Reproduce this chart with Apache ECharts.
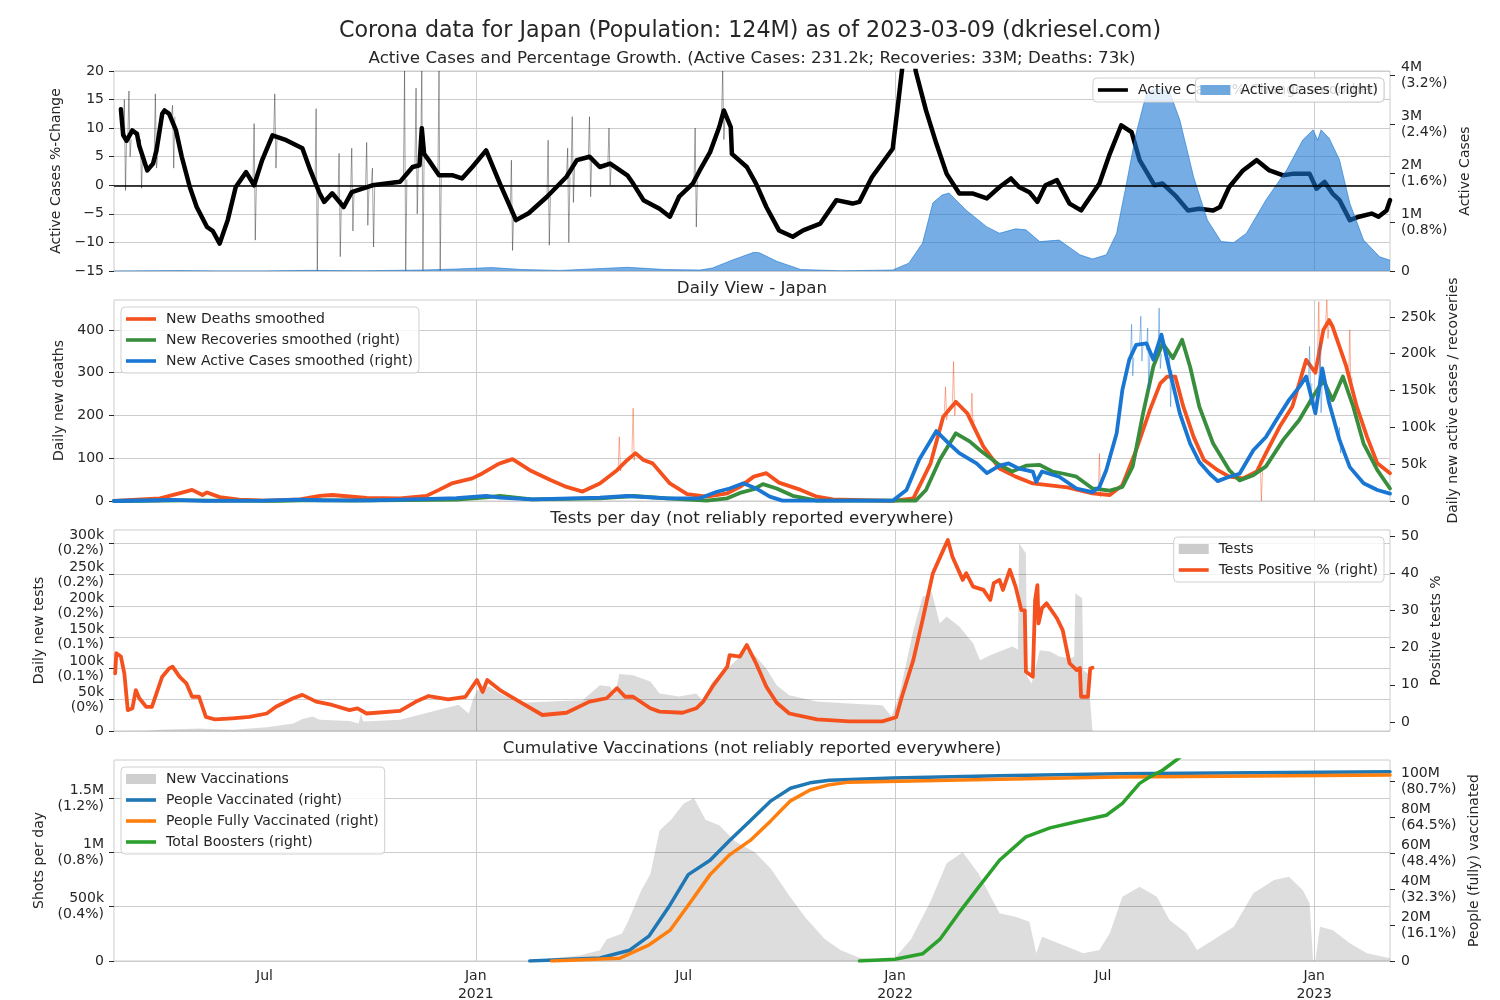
<!DOCTYPE html>
<html><head><meta charset="utf-8">
<script src="https://cdn.jsdelivr.net/npm/echarts@6/dist/echarts.min.js"></script>
<style>html,body{margin:0;padding:0;background:#fff}#c{width:1500px;height:1000px}</style>
</head><body><div id="c"></div>
<script>
// ---------------- DATA ----------------
const X_MIN = '2020-02-21', X_MAX = '2023-03-08';
const janLines = ['2021-01-01','2022-01-01','2023-01-01'];
const xTickDates = ['2020-07-01','2021-01-01','2021-07-01','2022-01-01','2022-07-01','2023-01-01'];
const xTickLabels = ['Jul','Jan\n2021','Jul','Jan\n2022','Jul','Jan\n2023'];

// Panel 1: active cases %-change (smoothed), percent
const pctSmoothed = [['2020-02-27',13.3],['2020-02-29',8.8],['2020-03-03',7.8],['2020-03-08',9.6],['2020-03-12',9.0],['2020-03-14',6.9],['2020-03-21',2.6],['2020-03-26',3.8],['2020-03-29',6.1],['2020-04-03',12.5],['2020-04-05',13.1],['2020-04-09',12.5],['2020-04-15',9.6],['2020-04-20',5.0],['2020-04-27',-0.3],['2020-05-03',-3.8],['2020-05-12',-7.3],['2020-05-17',-8.0],['2020-05-23',-10.2],['2020-05-30',-6.1],['2020-06-06',-0.3],['2020-06-15',2.3],['2020-06-22',0],['2020-06-29',4.4],['2020-07-08',8.75],['2020-07-20',7.9],['2020-08-03',6.5],['2020-08-10',2.6],['2020-08-18',-1.4],['2020-08-22',-2.9],['2020-08-29',-1.4],['2020-09-08',-3.8],['2020-09-15',-1.2],['2020-10-03',0],['2020-10-27',0.6],['2020-11-07',3.2],['2020-11-13',3.5],['2020-11-15',10],['2020-11-17',5.5],['2020-11-21',4.4],['2020-11-30',1.75],['2020-12-12',1.75],['2020-12-20',1.2],['2020-12-29',3.2],['2021-01-10',6.1],['2021-01-22',0.3],['2021-02-05',-6.1],['2021-02-16',-4.9],['2021-03-04',-2.0],['2021-03-21',1.5],['2021-03-30',4.4],['2021-04-10',5.0],['2021-04-19',3.2],['2021-04-28',3.8],['2021-05-13',1.75],['2021-05-18',0.3],['2021-05-27',-2.6],['2021-06-10',-4.1],['2021-06-19',-5.5],['2021-06-27',-2.0],['2021-07-09',0.3],['2021-07-15',2.6],['2021-07-24',5.8],['2021-08-01',10.2],['2021-08-05',13.1],['2021-08-11',10.2],['2021-08-12',5.5],['2021-08-25',3.2],['2021-09-02',0.3],['2021-09-11',-3.8],['2021-09-22',-7.9],['2021-10-04',-9.0],['2021-10-13',-7.9],['2021-10-28',-6.7],['2021-11-11',-2.6],['2021-11-25',-3.2],['2021-12-01',-2.9],['2021-12-12',1.45],['2021-12-30',6.4],['2022-01-03',13.1],['2022-01-07',20],['2022-01-13',32],['2022-01-19',20],['2022-01-28',13.1],['2022-02-06',7.3],['2022-02-15',2.0],['2022-02-26',-1.45],['2022-03-10',-1.45],['2022-03-22',-2.3],['2022-04-02',-0.3],['2022-04-12',1.2],['2022-04-19',-0.3],['2022-04-28',-1.2],['2022-05-05',-2.9],['2022-05-12',0],['2022-05-22',0.9],['2022-06-02',-3.2],['2022-06-12',-4.4],['2022-06-28',0.3],['2022-07-07',5.5],['2022-07-17',10.5],['2022-07-26',9.3],['2022-08-02',4.4],['2022-08-15',0],['2022-08-22',0.3],['2022-09-03',-2.0],['2022-09-13',-4.4],['2022-09-23',-4.1],['2022-10-05',-4.4],['2022-10-11',-3.8],['2022-10-19',-0.3],['2022-10-31',2.6],['2022-11-12',4.4],['2022-11-23',2.6],['2022-12-05',1.75],['2022-12-13',2.0],['2022-12-28',2.0],['2023-01-03',-0.6],['2023-01-10',0.6],['2023-01-17',-1.45],['2023-01-23',-2.6],['2023-02-01',-6.1],['2023-02-09',-5.5],['2023-02-20',-4.95],['2023-02-26',-5.5],['2023-03-05',-4.4],['2023-03-08',-2.6]];

// Panel 1: daily (raw) %-change outliers: [date, level, high, low]
const pctRawSpikes = [['2020-03-01',8.5,15,-0.9],['2020-03-05',8,16.5,5],['2020-03-15',6,8,-0.5],['2020-03-28',5,16,3],['2020-04-12',12,14,3],['2020-06-22',0.5,10.8,-9.6],['2020-07-10',8.5,16,3],['2020-08-15',0,13.4,-15],['2020-09-04',-2.5,5.6,-12.5],['2020-09-15',-1.2,6.5,-8],['2020-09-28',-0.5,7.5,-7],['2020-10-03',0,3,-10.8],['2020-10-31',1,20,-15],['2020-11-10',3.3,17,-5],['2020-11-15',5,20,-15],['2020-11-30',1.75,20,-15],['2021-02-01',-5,4.4,-11.4],['2021-03-05',-2,7.9,-10.5],['2021-03-22',1.5,6.5,-10],['2021-03-26',3,12,-3],['2021-04-10',5,12,-2],['2021-04-27',3.8,10,0],['2021-07-11',0.8,10,-7.3],['2021-08-04',12,20,8]];

// Panel 1: active cases, millions
const activeCases = [['2020-02-21',0],['2020-04-20',0.008],['2020-05-20',0.002],['2020-07-01',0.002],['2020-08-10',0.013],['2020-09-25',0.005],['2020-11-15',0.02],['2020-12-15',0.04],['2021-01-15',0.07],['2021-02-10',0.03],['2021-03-15',0.012],['2021-04-20',0.05],['2021-05-13',0.075],['2021-06-15',0.03],['2021-07-15',0.02],['2021-07-26',0.06],['2021-08-12',0.22],['2021-08-31',0.38],['2021-09-05',0.37],['2021-09-20',0.2],['2021-10-11',0.03],['2021-11-15',0.005],['2021-12-30',0.02],['2022-01-13',0.16],['2022-01-25',0.57],['2022-02-03',1.39],['2022-02-11',1.55],['2022-02-17',1.59],['2022-03-04',1.24],['2022-03-22',0.90],['2022-04-02',0.77],['2022-04-16',0.86],['2022-04-25',0.84],['2022-05-07',0.60],['2022-05-24',0.63],['2022-06-11',0.33],['2022-06-22',0.245],['2022-07-04',0.33],['2022-07-13',0.77],['2022-07-21',1.72],['2022-07-30',2.81],['2022-08-08',3.63],['2022-08-17',3.73],['2022-08-28',3.66],['2022-09-06',3.08],['2022-09-18',1.92],['2022-09-30',1.04],['2022-10-12',0.60],['2022-10-23',0.58],['2022-11-03',0.77],['2022-11-20',1.45],['2022-12-08',2.06],['2022-12-22',2.67],['2022-12-31',2.88],['2023-01-04',2.67],['2023-01-07',2.88],['2023-01-14',2.71],['2023-01-23',2.27],['2023-02-01',1.38],['2023-02-13',0.63],['2023-02-27',0.29],['2023-03-08',0.22]];

// Panel 2: new deaths smoothed (per day)
const newDeaths = [['2020-02-21',0],['2020-04-01',6],['2020-04-21',20],['2020-04-29',26],['2020-05-08',14],['2020-05-12',20],['2020-05-23',9],['2020-06-09',3],['2020-07-03',1],['2020-08-01',4],['2020-08-18',12],['2020-08-29',14],['2020-09-28',7],['2020-10-27',6],['2020-11-19',12],['2020-11-30',26],['2020-12-11',41],['2020-12-29',53],['2021-01-07',65],['2021-01-19',84],['2021-01-22',88],['2021-02-02',98],['2021-02-17',72],['2021-03-07',49],['2021-03-21',33],['2021-04-04',22],['2021-04-19',41],['2021-05-04',72],['2021-05-13',96],['2021-05-20',112],['2021-05-27',96],['2021-06-04',88],['2021-06-19',41],['2021-07-04',16],['2021-07-21',10],['2021-08-08',18],['2021-08-19',33],['2021-08-31',57],['2021-09-11',65],['2021-09-22',43],['2021-10-11',26],['2021-10-25',10],['2021-11-08',4],['2021-12-30',0.5],['2022-01-17',6],['2022-02-01',88],['2022-02-12',197],['2022-02-23',232],['2022-03-05',205],['2022-03-19',127],['2022-04-02',76],['2022-04-16',57],['2022-05-01',41],['2022-05-31',32],['2022-06-22',18],['2022-07-07',14],['2022-07-18',37],['2022-07-30',119],['2022-08-11',213],['2022-08-20',275],['2022-08-26',291],['2022-09-02',291],['2022-09-09',221],['2022-09-18',150],['2022-09-27',96],['2022-10-09',72],['2022-10-19',57],['2022-10-31',53],['2022-11-12',69],['2022-11-20',112],['2022-12-02',174],['2022-12-13',221],['2022-12-25',330],['2023-01-02',300],['2023-01-09',400],['2023-01-14',423],['2023-01-17',408],['2023-01-29',314],['2023-02-07',221],['2023-02-16',150],['2023-02-25',88],['2023-03-08',65]];
// raw daily deaths outliers: [date, level, high, low]
const deathRawSpikes = [['2021-05-06',80,150,70],['2021-05-18',112,217,95],['2022-02-14',210,267,190],['2022-02-21',232,326,200],['2022-03-09',190,252,170],['2022-06-28',16,111,10],['2022-11-15',70,95,0],['2023-01-05',350,466,300],['2023-01-12',415,470,380],['2023-02-01',290,400,260]];

// Panel 2: new recoveries smoothed (thousands per day)
const newRecoveries = [['2020-02-21',0],['2020-04-25',0.8],['2020-05-20',0.5],['2020-07-15',0.3],['2020-08-10',1.2],['2020-09-15',0.5],['2020-12-15',2],['2021-01-10',5],['2021-01-22',7],['2021-02-19',2.3],['2021-04-19',3.7],['2021-05-18',6.8],['2021-06-17',3.7],['2021-07-21',0.5],['2021-08-08',3.7],['2021-08-19',11],['2021-08-31',16],['2021-09-08',23],['2021-09-20',17],['2021-10-04',7],['2021-10-25',0.5],['2022-01-19',0.5],['2022-01-28',15],['2022-02-09',56],['2022-02-23',92],['2022-03-07',81],['2022-03-16',69],['2022-04-02',49],['2022-04-13',40],['2022-04-25',48],['2022-05-07',49],['2022-05-18',40],['2022-05-28',37],['2022-06-08',33],['2022-06-22',17],['2022-07-07',14],['2022-07-18',19],['2022-07-27',47],['2022-08-05',119],['2022-08-14',183],['2022-08-22',214],['2022-08-31',194],['2022-09-08',219],['2022-09-15',182],['2022-09-23',128],['2022-10-05',78],['2022-10-19',42],['2022-10-28',28],['2022-11-09',35],['2022-11-20',47],['2022-12-05',83],['2022-12-19',110],['2022-12-31',142],['2023-01-09',164],['2023-01-17',137],['2023-01-26',169],['2023-02-04',128],['2023-02-13',78],['2023-02-25',42],['2023-03-08',17]];

// Panel 2: new active cases smoothed (thousands per day)
const newActive = [['2020-02-21',0],['2020-03-30',1],['2020-04-12',1.5],['2020-05-10',0.3],['2020-07-01',0.5],['2020-07-30',2],['2020-08-20',1],['2020-10-01',0.8],['2020-11-15',2.5],['2020-12-15',4],['2021-01-10',7],['2021-01-22',4.6],['2021-02-19',2.3],['2021-04-19',4.6],['2021-05-13',6.8],['2021-06-17',3.7],['2021-07-15',3.7],['2021-07-30',12.6],['2021-08-10',17],['2021-08-22',24],['2021-09-02',17],['2021-09-14',6],['2021-09-25',0.5],['2021-12-30',0.5],['2022-01-11',15],['2022-01-22',56],['2022-02-06',95],['2022-02-17',78],['2022-02-26',65],['2022-03-13',51],['2022-03-22',38],['2022-04-02',48],['2022-04-10',51],['2022-04-19',44],['2022-05-01',40],['2022-05-04',26],['2022-05-09',40],['2022-05-24',33],['2022-06-08',17],['2022-06-22',12],['2022-06-28',19],['2022-07-04',42],['2022-07-13',92],['2022-07-18',151],['2022-07-24',192],['2022-07-30',212],['2022-08-08',214],['2022-08-14',192],['2022-08-21',226],['2022-08-28',178],['2022-09-06',119],['2022-09-15',78],['2022-09-23',53],['2022-10-02',37],['2022-10-09',27],['2022-10-19',33],['2022-10-28',37],['2022-11-09',69],['2022-11-20',87],['2022-11-29',110],['2022-12-10',137],['2022-12-19',155],['2022-12-25',169],['2023-01-02',119],['2023-01-08',180],['2023-01-14',133],['2023-01-23',83],['2023-02-01',46],['2023-02-13',24],['2023-02-25',15],['2023-03-08',10]];
// raw daily new active cases outliers (thousands): [date, level, high, low]
const activeRawSpikes = [['2022-07-26',195,240,170],['2022-08-03',213,251,190],['2022-08-09',205,235,151],['2022-08-19',200,262,180],['2022-08-28',178,200,128],['2022-12-28',160,210,130],['2023-01-06',160,215,120],['2023-01-23',83,100,65]];

// Panel 3: tests per day (thousands)
const testsPerDay = [['2020-02-21',0],['2020-03-20',0.5],['2020-04-01',2],['2020-05-05',4],['2020-06-03',2],['2020-07-03',6],['2020-07-26',12],['2020-08-03',19],['2020-08-12',23],['2020-08-18',18],['2020-09-13',16],['2020-09-21',12],['2020-09-23',28],['2020-09-25',15],['2020-10-27',18],['2020-11-13',26],['2020-11-30',34],['2020-12-17',42],['2020-12-26',28],['2020-12-29',47],['2021-01-02',65],['2021-01-13',71],['2021-01-22',60],['2021-02-08',45],['2021-03-07',47],['2021-04-04',49],['2021-04-19',73],['2021-04-28',71],['2021-05-02',57],['2021-05-06',91],['2021-05-18',89],['2021-06-02',79],['2021-06-10',60],['2021-06-27',55],['2021-07-12',60],['2021-07-18',47],['2021-07-26',79],['2021-08-10',103],['2021-08-25',129],['2021-09-02',119],['2021-09-11',100],['2021-09-20',73],['2021-10-01',57],['2021-10-25',47],['2021-11-22',44],['2021-12-21',41],['2021-12-29',23],['2022-01-05',60],['2022-01-17',161],['2022-01-25',214],['2022-02-02',222],['2022-02-09',172],['2022-02-15',183],['2022-02-26',167],['2022-03-10',140],['2022-03-16',113],['2022-03-25',121],['2022-04-02',127],['2022-04-13',135],['2022-04-18',130],['2022-04-19',300],['2022-04-25',284],['2022-04-26',87],['2022-04-30',76],['2022-05-07',129],['2022-05-16',127],['2022-05-24',119],['2022-06-02',116],['2022-06-06',118],['2022-06-07',220],['2022-06-13',212],['2022-06-14',97],['2022-06-18',92],['2022-06-22',0]];

// Panel 3: tests positive (%)
const testsPositive = [['2020-02-22',13.1],['2020-02-23',18.5],['2020-02-27',17.6],['2020-03-01',13.1],['2020-03-04',3.2],['2020-03-08',3.7],['2020-03-11',8.6],['2020-03-14',6.4],['2020-03-20',4.1],['2020-03-25',4.1],['2020-03-29',7.7],['2020-04-03',12.2],['2020-04-09',14.4],['2020-04-12',14.9],['2020-04-18',12.2],['2020-04-24',10.4],['2020-04-29',6.8],['2020-05-05',6.8],['2020-05-11',1.4],['2020-05-19',0.7],['2020-06-03',1.0],['2020-06-18',1.4],['2020-07-03',2.3],['2020-07-11',4.1],['2020-07-26',6.4],['2020-08-03',7.3],['2020-08-15',5.5],['2020-08-29',4.6],['2020-09-13',3.2],['2020-09-20',3.7],['2020-09-28',2.3],['2020-10-27',3.0],['2020-11-10',5.5],['2020-11-21',7.0],['2020-12-08',6.1],['2020-12-23',6.8],['2021-01-02',11.3],['2021-01-07',8.1],['2021-01-11',11.3],['2021-01-22',8.6],['2021-02-08',5.5],['2021-02-28',1.9],['2021-03-21',2.5],['2021-04-10',5.5],['2021-04-25',6.4],['2021-05-04',9.1],['2021-05-11',6.8],['2021-05-18',6.8],['2021-06-02',3.7],['2021-06-10',2.8],['2021-06-30',2.5],['2021-07-12',3.7],['2021-07-18',5.5],['2021-07-26',9.5],['2021-08-08',14.9],['2021-08-10',18],['2021-08-19',17.6],['2021-08-25',20.7],['2021-09-02',15.8],['2021-09-11',9.5],['2021-09-20',5.2],['2021-10-01',2.3],['2021-10-25',0.7],['2021-11-22',0.2],['2021-12-21',0.2],['2022-01-02',1.3],['2022-01-07',6.8],['2022-01-17',16.7],['2022-01-25',27.4],['2022-02-03',40],['2022-02-12',46.2],['2022-02-16',48.9],['2022-02-20',44.4],['2022-03-01',38.2],['2022-03-04',40],['2022-03-10',36.4],['2022-03-19',35.5],['2022-03-25',32.8],['2022-03-28',37.3],['2022-04-02',38.2],['2022-04-05',35.5],['2022-04-11',40.9],['2022-04-16',36.4],['2022-04-21',30.1],['2022-04-24',30],['2022-04-25',13.5],['2022-05-01',12.2],['2022-05-03',32.8],['2022-05-05',36.8],['2022-05-06',26.5],['2022-05-09',30.6],['2022-05-13',31.9],['2022-05-22',27.9],['2022-05-27',24.7],['2022-06-02',15.8],['2022-06-08',14],['2022-06-11',14.5],['2022-06-12',6.8],['2022-06-18',6.8],['2022-06-20',14.4],['2022-06-22',14.6]];

// Panel 4: new vaccinations per day (thousands)
const newVaccinations = [['2021-02-17',0],['2021-03-01',15],['2021-04-01',50],['2021-04-19',100],['2021-04-25',200],['2021-05-08',250],['2021-05-13',350],['2021-05-25',650],['2021-06-02',800],['2021-06-10',1200],['2021-06-20',1300],['2021-07-01',1450],['2021-07-10',1500],['2021-07-20',1300],['2021-08-01',1250],['2021-08-15',1100],['2021-09-01',1000],['2021-09-15',850],['2021-10-01',600],['2021-10-15',400],['2021-11-01',200],['2021-11-15',100],['2021-12-01',30],['2021-12-15',20],['2022-01-01',30],['2022-01-15',200],['2022-02-01',550],['2022-02-15',900],['2022-03-01',1000],['2022-03-15',800],['2022-04-02',440],['2022-04-16',408],['2022-04-28',362],['2022-05-04',71],['2022-05-09',224],['2022-05-31',132],['2022-06-14',71],['2022-06-28',101],['2022-07-07',255],['2022-07-18',592],['2022-08-02',684],['2022-08-17',592],['2022-08-28',378],['2022-09-12',255],['2022-09-21',101],['2022-10-05',193],['2022-10-23',316],['2022-11-09',624],['2022-11-27',746],['2022-12-10',776],['2022-12-22',654],['2022-12-28',531],['2022-12-31',9],['2023-01-02',9],['2023-01-06',316],['2023-01-17',286],['2023-02-01',163],['2023-02-16',71],['2023-03-08',25]];

// Panel 4: cumulative (millions)
const peopleVaccinated = [['2021-02-17',0],['2021-04-19',1.7],['2021-05-15',6],['2021-06-01',14],['2021-06-19',31],['2021-07-05',48],['2021-07-24',56],['2021-08-10',67],['2021-08-28',78],['2021-09-15',89],['2021-10-02',96],['2021-10-19',99],['2021-11-05',100.5],['2021-12-30',101.7],['2022-04-02',103],['2022-07-15',104],['2023-03-08',105.2]];
const peopleFullyVaccinated = [['2021-03-08',0],['2021-05-06',1.5],['2021-06-01',9],['2021-06-19',17],['2021-07-05',31],['2021-07-24',48],['2021-08-10',59],['2021-08-28',67],['2021-09-15',78],['2021-10-02',89],['2021-10-19',95],['2021-11-05',98],['2021-11-22',99.4],['2022-04-02',101],['2022-07-15',102.3],['2023-03-08',103.3]];
const totalBoosters = [['2021-12-01',0],['2022-01-01',1],['2022-01-25',4],['2022-02-09',12],['2022-02-26',27],['2022-03-16',42],['2022-04-02',56],['2022-04-25',69],['2022-05-16',74],['2022-06-08',77.4],['2022-07-04',81],['2022-07-18',87.6],['2022-08-02',98.7],['2022-08-11',102.4],['2022-08-22',106],['2022-09-03',111.7],['2022-09-20',120]];

// Tick values and labels
const p1LeftTicks = [-15,-10,-5,0,5,10,15,20];
const p1LeftLabels = ['\u221215','\u221210','\u22125','0','5','10','15','20'];
const p1RightTicks = [0,1,2,3,4];
const p1RightLabels = ['0','1M\n(0.8%)','2M\n(1.6%)','3M\n(2.4%)','4M\n(3.2%)'];
const p2LeftTicks = [0,100,200,300,400];
const p2LeftLabels = ['0','100','200','300','400'];
const p2RightTicks = [0,50,100,150,200,250];
const p2RightLabels = ['0','50k','100k','150k','200k','250k'];
const p3LeftTicks = [0,50,100,150,200,250,300];
const p3LeftLabels = ['0','50k\n(0%)','100k\n(0.1%)','150k\n(0.1%)','200k\n(0.2%)','250k\n(0.2%)','300k\n(0.2%)'];
const p3RightTicks = [0,10,20,30,40,50];
const p3RightLabels = ['0','10','20','30','40','50'];
const p4LeftTicks = [0,500,1000,1500];
const p4LeftLabels = ['0','500k\n(0.4%)','1M\n(0.8%)','1.5M\n(1.2%)'];
const p4RightTicks = [0,20,40,60,80,100];
const p4RightLabels = ['0','20M\n(16.1%)','40M\n(32.3%)','60M\n(48.4%)','80M\n(64.5%)','100M\n(80.7%)'];

// ---------------- CHART ----------------
const FONT = 'DejaVu Sans';
const TXT = '#262626';
const GRIDC = '#cccccc';
const DAY = 86400000;
const ts = s => echarts.number.parseDate(s).getTime();
const pts = arr => arr.map(d => [ts(d[0]), d[1]]);
const spikePts = list => {
  const out = [];
  list.forEach(([d, lvl, hi, lo]) => {
    const t = ts(d);
    out.push([t - DAY, lvl], [t, hi], [t + DAY, lo], [t + 2 * DAY, lvl], [t + 2 * DAY + 1, null]);
  });
  return out;
};
const fmt = (ticks, labels) => v => { const i = ticks.findIndex(t => Math.abs(t - v) < 1e-6); return i >= 0 ? labels[i] : ''; };

const tops = [71, 300, 530, 760];
const grids = tops.map((top, i) => ({ left: 114, right: 110, top: top, height: i === 0 ? 200 : 201, show: true, borderColor: GRIDC, borderWidth: 1, backgroundColor: 'rgba(0,0,0,0)', outerBoundsMode: 'none' }));

const xTickTs = xTickDates.map(ts);
const xAxes = [0,1,2,3].map(i => ({
  type: 'value', gridIndex: i, min: ts(X_MIN), max: ts(X_MAX), scale: true,
  axisLine: { show: false }, axisTick: { show: false }, splitLine: { show: false },
  axisLabel: i < 3 ? { show: false } : {
    show: true, customValues: xTickTs, formatter: fmt(xTickTs, xTickLabels),
    color: TXT, fontSize: 14, fontFamily: FONT, lineHeight: 18, margin: 6, hideOverlap: false
  }
}));

function yAx(grid, pos, o) {
  const ax = {
    type: 'value', gridIndex: grid, position: pos, min: o.min, max: o.max,
    axisLine: { show: false },
    axisTick: { show: true, length: 5, lineStyle: { color: TXT, width: 1 }, customValues: o.ticks },
    axisLabel: { customValues: o.ticks, formatter: fmt(o.ticks, o.labels), color: TXT, fontSize: 14, fontFamily: FONT, margin: pos === 'left' ? 10 : 11, lineHeight: o.lh || 16 },
    splitLine: { show: pos === 'left', lineStyle: { color: GRIDC, width: 1 } },
    name: o.name, nameLocation: 'middle', nameGap: o.gap,
    nameTextStyle: { color: TXT, fontSize: 14, fontFamily: FONT }
  };
  if (o.interval != null) ax.interval = o.interval;
  return ax;
}

const yAxes = [
  yAx(0, 'left',  { min: -15, max: 20, interval: 5, ticks: p1LeftTicks, labels: p1LeftLabels, name: 'Active Cases %-Change', gap: 39 }),
  yAx(0, 'right', { min: 0, max: 4.08, ticks: p1RightTicks, labels: p1RightLabels, name: 'Active Cases', gap: 54 }),
  yAx(1, 'left',  { min: 0, max: 470, interval: 100, ticks: p2LeftTicks, labels: p2LeftLabels, name: 'Daily new deaths', gap: 38 }),
  yAx(1, 'right', { min: 0, max: 273, ticks: p2RightTicks, labels: p2RightLabels, name: 'Daily new active cases / recoveries', gap: 44 }),
  yAx(2, 'left',  { min: 0, max: 321, interval: 50, ticks: p3LeftTicks, labels: p3LeftLabels, name: 'Daily new tests', gap: 56, lh: 15 }),
  yAx(2, 'right', { min: -2.4, max: 51.6, ticks: p3RightTicks, labels: p3RightLabels, name: 'Positive tests %', gap: 27 }),
  yAx(3, 'left',  { min: 0, max: 1850, interval: 500, ticks: p4LeftTicks, labels: p4LeftLabels, name: 'Shots per day', gap: 56 }),
  yAx(3, 'right', { min: 0, max: 111.7, ticks: p4RightTicks, labels: p4RightLabels, name: 'People (fully) vaccinated', gap: 66 })
];

function vgrid(g, yi) {
  return { type: 'line', name: '_vgrid' + g, xAxisIndex: g, yAxisIndex: yi, data: [[ts(X_MIN), null]], silent: true, z: 1, symbol: 'none',
    markLine: { silent: true, z: 1, symbol: ['none','none'], label: { show: false }, animation: false,
      lineStyle: { color: GRIDC, width: 1, type: 'solid' },
      data: janLines.map(d => ({ xAxis: ts(d) })) } };
}
function lineS(name, data, g, yi, color, width, z, extra) {
  return Object.assign({ type: 'line', name: name, xAxisIndex: g, yAxisIndex: yi, data: data, showSymbol: false, symbol: 'none',
    color: color, lineStyle: { color: color, width: width, cap: 'round', join: 'round' }, z: z, silent: true }, extra || {});
}

const series = [
  vgrid(0, 0), vgrid(1, 2), vgrid(2, 4), vgrid(3, 6),
  lineS('_pctRaw', spikePts(pctRawSpikes), 0, 0, '#000000', 0.8, 2, { lineStyle: { color: '#000000', width: 0.8, opacity: 0.45 } }),
  lineS('Active Cases %-Change smoothed', pts(pctSmoothed), 0, 0, '#000000', 4.5, 2),
  Object.assign(lineS('Active Cases (right)', pts(activeCases), 0, 1, '#1976d2', 1, 3), {
    lineStyle: { color: '#1976d2', width: 1, opacity: 0.6 }, areaStyle: { color: '#1976d2', opacity: 0.6 }, itemStyle: { color: '#6fa8dc' } }),
  { type: 'line', name: '_zero', xAxisIndex: 0, yAxisIndex: 0, data: [[ts(X_MIN), null]], silent: true, z: 5, symbol: 'none',
    markLine: { silent: true, z: 5, symbol: ['none','none'], label: { show: false }, animation: false,
      lineStyle: { color: '#000000', width: 1.5, type: 'solid' }, data: [{ yAxis: 0 }] } },
  lineS('_deathRaw', spikePts(deathRawSpikes), 1, 2, '#f4511e', 1, 2, { lineStyle: { color: '#f4511e', width: 1, opacity: 0.45 } }),
  lineS('New Deaths smoothed', pts(newDeaths), 1, 2, '#f4511e', 3.8, 2),
  lineS('New Recoveries smoothed (right)', pts(newRecoveries), 1, 3, '#388e3c', 3.8, 3),
  lineS('_activeRaw', spikePts(activeRawSpikes), 1, 3, '#1976d2', 1, 4, { lineStyle: { color: '#1976d2', width: 1, opacity: 0.45 } }),
  lineS('New Active Cases smoothed (right)', pts(newActive), 1, 3, '#1976d2', 3.8, 4),
  Object.assign(lineS('Tests', pts(testsPerDay), 2, 4, '#cccccc', 0, 2), {
    lineStyle: { width: 0 }, areaStyle: { color: 'rgba(0,0,0,0.2)' } }),
  lineS('Tests Positive % (right)', pts(testsPositive), 2, 5, '#f4511e', 3.8, 3),
  Object.assign(lineS('New Vaccinations', pts(newVaccinations), 3, 6, '#cfcfcf', 0, 2), {
    lineStyle: { width: 0 }, areaStyle: { color: 'rgba(0,0,0,0.19)' } }),
  lineS('People Vaccinated (right)', pts(peopleVaccinated), 3, 7, '#1f77b4', 3.5, 3),
  lineS('People Fully Vaccinated (right)', pts(peopleFullyVaccinated), 3, 7, '#ff7f0e', 3.5, 3),
  lineS('Total Boosters (right)', pts(totalBoosters), 3, 7, '#2ca02c', 3.5, 4)
];

const LINE_ICON = 'path://M0,0 M30,10 M0,3.2 L30,3.2 L30,6.8 L0,6.8 Z';
const legBase = { orient: 'vertical', itemGap: 7, itemWidth: 30, itemHeight: 10, padding: [5, 6, 5, 5],
  backgroundColor: 'rgba(255,255,255,0.8)', borderColor: '#d0d0d0', borderWidth: 1, borderRadius: 4,
  textStyle: { color: TXT, fontSize: 14, fontFamily: FONT, padding: [0, 0, 0, 5] }, selectedMode: false };
const lineIcon = n => ({ name: n, icon: LINE_ICON });
const patchIcon = n => ({ name: n, icon: 'rect' });

const legends = [
  Object.assign({}, legBase, { right: 116, top: 78, z: 6, data: [lineIcon('Active Cases %-Change smoothed')] }),
  Object.assign({}, legBase, { right: 116, top: 78, z: 7, data: [patchIcon('Active Cases (right)')] }),
  Object.assign({}, legBase, { left: 121, top: 307, z: 6, data: ['New Deaths smoothed','New Recoveries smoothed (right)','New Active Cases smoothed (right)'].map(lineIcon) }),
  Object.assign({}, legBase, { right: 116, top: 537, z: 6, data: [patchIcon('Tests'), lineIcon('Tests Positive % (right)')] }),
  Object.assign({}, legBase, { left: 121, top: 767, z: 6, data: [patchIcon('New Vaccinations')].concat(['People Vaccinated (right)','People Fully Vaccinated (right)','Total Boosters (right)'].map(lineIcon)) })
];

const titleStyle = (size) => ({ color: TXT, fontSize: size, fontWeight: 'normal', fontFamily: FONT });
const titles = [
  { text: 'Corona data for Japan (Population: 124M) as of 2023-03-09 (dkriesel.com)', left: 750, top: 20, textAlign: 'center', padding: 0, textStyle: titleStyle(22.2) },
  { text: 'Active Cases and Percentage Growth. (Active Cases: 231.2k; Recoveries: 33M; Deaths: 73k)', left: 752, top: 50, textAlign: 'center', padding: 0, textStyle: titleStyle(16.7) },
  { text: 'Daily View - Japan', left: 752, top: 280, textAlign: 'center', padding: 0, textStyle: titleStyle(16.7) },
  { text: 'Tests per day (not reliably reported everywhere)', left: 752, top: 510, textAlign: 'center', padding: 0, textStyle: titleStyle(16.7) },
  { text: 'Cumulative Vaccinations (not reliably reported everywhere)', left: 752, top: 740, textAlign: 'center', padding: 0, textStyle: titleStyle(16.7) }
];

const chart = echarts.init(document.getElementById('c'), null, { renderer: 'canvas', width: 1500, height: 1000 });
chart.setOption({
  animation: false, backgroundColor: '#ffffff',
  textStyle: { fontFamily: FONT },
  title: titles, grid: grids, xAxis: xAxes, yAxis: yAxes, legend: legends, series: series
});
</script>
</body></html>
